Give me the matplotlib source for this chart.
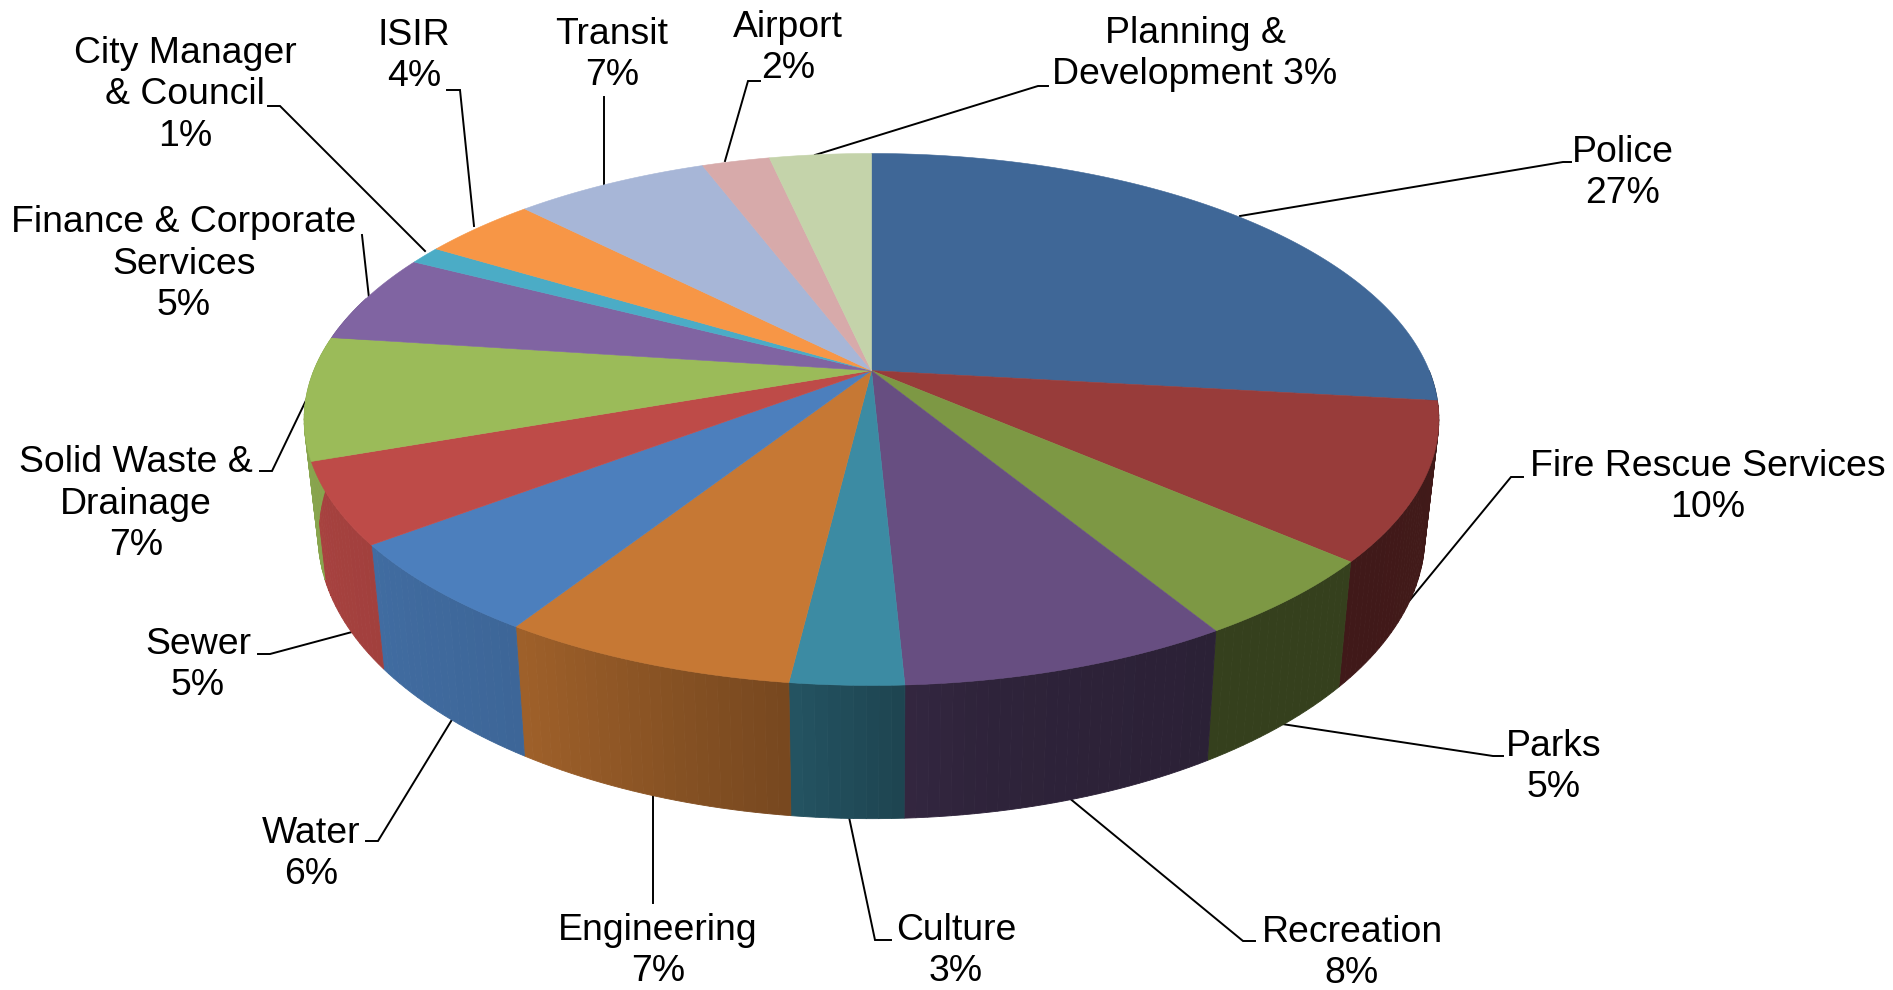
"""Budget share by department, drawn as a tilted 3D pie."""

import matplotlib

matplotlib.use("Agg")  # headless
import matplotlib.pyplot as plt
import numpy as np

departments = [
    "Police", "Fire Rescue Services", "Parks", "Recreation", "Culture",
    "Engineering", "Water", "Sewer", "Solid Waste &\nDrainage",
    "Finance & Corporate\nServices", "City Manager\n& Council", "ISIR",
    "Transit", "Airport", "Planning &\nDevelopment",
]
shares = [26.7, 9.5, 4.9, 7.9, 2.7, 7.1, 5.6, 4.9, 7.45, 5.45, 1.1, 3.9, 6.6, 2.3, 3.45]
top_colors = [
    "#3f6797", "#983c3a", "#7d9844", "#674e81", "#3c8ba3",
    "#c67834", "#4c7fbd", "#be4b48", "#9bbb59", "#8064a2",
    "#4bacc6", "#f79646", "#a7b6d7", "#d7aaaa", "#c4d3aa",
]

# label centre and leader polyline per department, in pixels
label_xy = [
    (1623, 173), (1708, 487), (1554, 767), (1352, 953), (956, 951),
    (658, 951), (311, 854), (198, 665), (136, 504), (184, 264),
    (185, 95), (414, 56), (612, 55), (788, 48), (1195, 54),
]
leaders = [
    [(1240, 216), (1563, 162), (1571, 162)],
    [(1410, 600), (1511, 477), (1523, 477)],
    [(1282, 724), (1493, 756), (1503, 756)],
    [(1068, 797), (1243, 941), (1255, 941)],
    [(849, 817), (875, 940), (891, 940)],
    [(653, 794), (653, 903)],
    [(453, 718), (378, 841), (366, 841)],
    [(352, 632), (270, 654), (258, 654)],
    [(311, 390), (272, 471), (260, 471)],
    [(369, 298), (362, 235)],
    [(425, 251), (280, 106), (268, 106)],
    [(474, 226), (460, 90), (447, 90)],
    [(604, 185), (604, 97)],
    [(725, 161), (748, 81), (760, 81)],
    [(815, 155), (1038, 86), (1048, 86)],
]

# perspective of the disc: apex, radius, vertical scale, foreshortening
PERSP = 0.1837
TOP = dict(cx=871.5, cy=370.6, rx=557.7, ry=257.0)
BOTTOM = dict(cx=871.5, cy=483.0, rx=544.0, ry=274.0)

# how much the rim darkens with clockwise angle from 12 o'clock
SHADE_DEG = [90, 150, 170, 178, 187, 195, 212, 232, 250, 270]
SHADE_VAL = [0.43, 0.42, 0.45, 0.50, 0.60, 0.66, 0.80, 0.85, 0.88, 0.88]


def project(theta, disc):
    """Map clockwise angles (radians from 12 o'clock) onto a disc in pixels."""
    x, y = np.sin(theta), np.cos(theta)
    w = 1 + PERSP * y
    return disc["cx"] + disc["rx"] * x / w, disc["cy"] - disc["ry"] * y / w


plt.rcParams["font.family"] = ["Liberation Sans", "DejaVu Sans"]
fig = plt.figure(figsize=(18.93, 9.9), dpi=100)
ax = fig.add_axes([0, 0, 1, 1])
ax.set_xlim(0, 1893)
ax.set_ylim(990, 0)
ax.axis("off")

fractions = np.array(shares) / sum(shares)
edges = np.concatenate([[0], np.cumsum(fractions)]) * 2 * np.pi

# leaders go underneath so the pie trims their inner ends
for pts in leaders:
    xs, ys = zip(*pts)
    ax.plot(xs, ys, color="black", lw=1.4, solid_joinstyle="miter", zorder=1)

# rim, only the front half can show
for start, end, color in zip(edges[:-1], edges[1:], top_colors):
    base = np.array(matplotlib.colors.to_rgb(color))
    lo, hi = max(start, np.pi / 2), min(end, 3 * np.pi / 2 + 0.3)
    if hi <= lo:
        continue
    steps = np.linspace(lo, hi, max(2, int((hi - lo) * 60)))
    for a, b in zip(steps[:-1], steps[1:]):
        t = np.linspace(a, b, 3)
        x1, y1 = project(t, TOP)
        x2, y2 = project(t[::-1], BOTTOM)
        shade = np.interp(np.degrees((a + b) / 2), SHADE_DEG, SHADE_VAL)
        c = base * shade
        ax.fill(np.r_[x1, x2], np.r_[y1, y2], color=c, lw=0.6, zorder=2)

# top face
for start, end, color in zip(edges[:-1], edges[1:], top_colors):
    t = np.linspace(start, end, max(8, int((end - start) * 120)))
    x, y = project(t, TOP)
    ax.fill(np.r_[TOP["cx"], x], np.r_[TOP["cy"], y], color=color, lw=0.4, zorder=3)

for name, share, (lx, ly) in zip(departments, shares, label_xy):
    sep = " " if name.startswith("Planning") else "\n"
    ax.text(lx, ly, f"{name}{sep}{share:.0f}%", ha="center", va="center",
            fontsize=26.9, color="black", linespacing=1.235, zorder=4)

fig.savefig("out.png", dpi=100)
plt.close(fig)
